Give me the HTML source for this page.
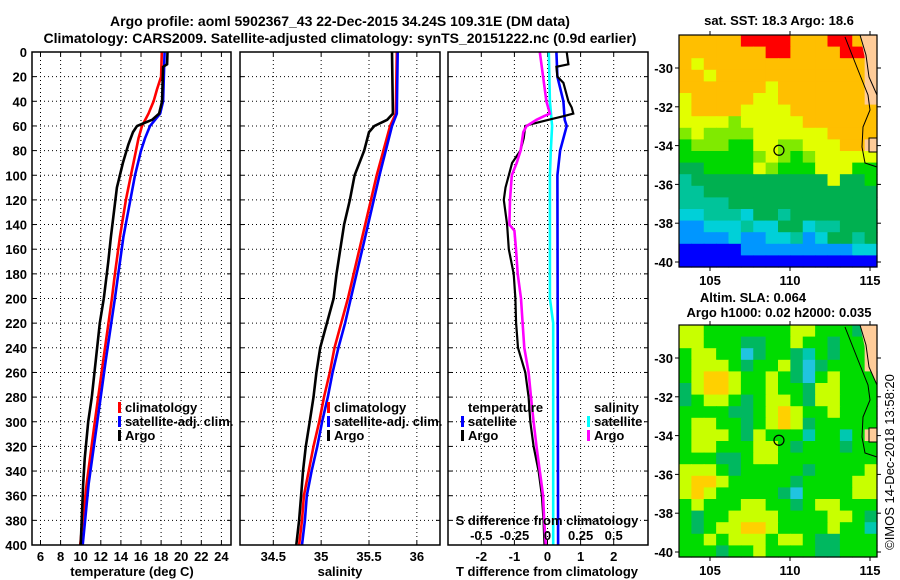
<!DOCTYPE html>
<html><head><meta charset="utf-8"><style>
html,body{margin:0;padding:0;background:#fff;}
svg{display:block;font-family:"Liberation Sans",Arial,sans-serif;font-weight:bold;}
</style></head><body>
<svg id="fig" width="900" height="580" viewBox="0 0 900 580" xmlns="http://www.w3.org/2000/svg">
<rect width="900" height="580" fill="#fff"/>
<text x="340" y="26" font-size="14" text-anchor="middle">Argo profile: aoml 5902367_43 22-Dec-2015 34.24S 109.31E (DM data)</text>
<text x="340" y="43" font-size="14" text-anchor="middle">Climatology: CARS2009. Satellite-adjusted climatology: synTS_20151222.nc (0.9d earlier)</text>
<text x="779" y="25" font-size="13" text-anchor="middle">sat. SST: 18.3 Argo: 18.6</text>
<text x="753" y="302" font-size="13" text-anchor="middle">Altim. SLA: 0.064</text>
<text x="779" y="317" font-size="13" text-anchor="middle">Argo h1000: 0.02 h2000: 0.035</text>
<text transform="translate(894,462) rotate(-90)" font-size="13" font-weight="normal" text-anchor="middle">©IMOS 14-Dec-2018 13:58:20</text>
<g id="g"></g>
</svg>
<script>
// ---- profile data ----
const tDepthArgo=[0,10,12,25,40,50,55,58,60,65,75,90,110,130,150,170,200,220,250,280,300,330,350,380,400];
const tArgo=[18.64,18.6,18.2,18.15,18.1,17.8,17.1,16.2,15.6,15.2,14.75,14.2,13.6,13.3,13.0,12.75,12.3,11.9,11.5,11.1,10.75,10.4,10.25,10.1,10.0];
const tDepthClim=[0,20,30,40,50,60,70,80,100,120,150,180,200,250,300,350,380,400];
const tClim=[18.07,18.0,17.6,17.25,16.75,16.1,15.75,15.5,15.0,14.5,13.9,13.4,13.1,12.25,11.4,10.6,10.2,9.95];
const tDepthSat=[0,40,50,60,70,80,100,150,200,250,300,350,400];
const tSat=[18.35,18.2,17.9,16.9,16.4,16.0,15.4,14.25,13.4,12.5,11.65,10.8,10.2];
const sDepthArgo=[0,50,55,60,65,80,100,120,140,160,180,200,220,240,260,280,300,320,340,360,380,400];
const sArgo=[35.74,35.75,35.69,35.555,35.50,35.45,35.35,35.30,35.24,35.20,35.16,35.13,35.06,34.99,34.95,34.92,34.88,34.84,34.81,34.79,34.77,34.74];
const sDepthClim=[0,50,60,100,150,200,220,240,260,280,300,320,340,360,380,400];
const sClim=[35.79,35.78,35.72,35.58,35.43,35.28,35.21,35.14,35.09,35.03,34.98,34.92,34.87,34.82,34.80,34.77];
const sSat=[35.80,35.79,35.74,35.61,35.46,35.31,35.25,35.18,35.12,35.07,35.01,34.96,34.90,34.85,34.83,34.80];
const dDepthTArgo=[0,10,12,20,25,40,45,50,52,55,58,60,70,80,90,100,110,120,140,160,180,200,220,240,260,280,300,320,340,360,380,400];
const dTArgo=[0.58,0.63,0.27,0.3,0.48,0.63,0.73,0.78,0.5,0.03,-0.42,-0.67,-0.72,-0.82,-1.07,-1.17,-1.27,-1.32,-1.22,-1.17,-1.02,-0.97,-0.95,-0.89,-0.67,-0.57,-0.52,-0.42,-0.27,-0.17,-0.12,-0.09];
const dDepthTSat=[0,20,40,55,60,70,80,100,400];
const dTSat=[0.27,0.3,0.48,0.52,0.58,0.48,0.38,0.3,0.32];
const dDepthSArgo=[0,20,40,50,52,55,60,65,80,90,100,120,140,145,160,180,200,220,240,260,280,300,320,340,360,380,400];
const dSArgo=[-0.058,-0.033,-0.008,0.018,-0.025,-0.083,-0.158,-0.183,-0.203,-0.233,-0.27,-0.283,-0.288,-0.25,-0.238,-0.225,-0.2,-0.188,-0.175,-0.143,-0.125,-0.105,-0.083,-0.058,-0.033,-0.025,-0.013];
const dDepthSSat=[0,40,60,80,100,200,220,400];
const dSSat=[0.01,0.018,0.035,0.025,0.018,0.018,0.043,0.043];
const depthTicks=[0,20,40,60,80,100,120,140,160,180,200,220,240,260,280,300,320,340,360,380,400];
const tTicks=[6,8,10,12,14,16,18,20,22,24];
const sTicks=[34.5,35,35.5,36];
const dTTicks=[-2,-1,0,1,2];
const dSTicks=[-0.5,-0.25,0,0.25,0.5];
const dSTickLabels=["-0.5","-0.25","0","0.25","0.5"];
// ---- map data (grid codes, rows north->south) ----
const sstGrid=[
"OOOOORRRROOORROP","OOOOOOORROOOORRP","OYOOOOOOOOOOOOOP","OOYOOOOOOOOOOOOP","OOOOOOOYOOOOOOOP",
"YOOOOOYYOOOOOOOP","YOOOOYYYYOOOOOOO","YYYYLYYYYYOOOOOO","LYLLLLYYYYYYOOOO","GLLLGGYYLLYYYOOP",
"GGGGGGLYLGLYYYYY","DDGGGGYLGGGYYYGG","TDDDDDDDDDDDYDDG","TTDDDDDDDDDDDDDD","TTTTDDDDDDDDDDDD",
"CCTTTCDDTDDDDDDD","SSCCCTCCDDCTTDDD","SSSSCSSCCTSCDDTD","NNNNNSSSSSSSSSCC","NNNNNNNNNNNNNNNN"];
const slaGrid=[
"YYGGGGGGGYYGGGDP","YYGGGDDGGYGGDGGP","GYYGGCDGGDTGDGGP","GYYYGDGGYDCDGGGP","GYOOYGGYGDCGYGGG",
"DYOOYGGYGGDYYGGG","DGYYGDGYYGDYYGGG","GGGGDDGYOYGGYGGG","GYYGGDGYOYDGGGGG","GYYYGDYGGGTGGTGP",
"GYYGGGYYGDGGGDGG","GGGDDGYYGGGGGGGG","YYYGDGGGGGDGGGGY","YOOYGGGGGDGGGGYY","YOYGGGGGDCGGGGYY",
"GYGGGYYGGDGYYGGG","GDGGYYYYGGGGYYGD","GDGYYOOYGGGGYGGT","GGYGYYYGYYGDDGGG","GGGDGGYGGGGDDGGG"];
const argoLon=109.31, argoLat=-34.24;
const latTicks=[-30,-32,-34,-36,-38,-40];
const lonTicks=[105,110,115];

const NS="http://www.w3.org/2000/svg";
const G=document.getElementById('g');
function mk(tag,at,parent){const e=document.createElementNS(NS,tag);for(const k in at)e.setAttribute(k,at[k]);(parent||G).appendChild(e);return e;}
const Y0=52,Y1=545;
const yD=d=>Y0+d*(Y1-Y0)/400;
const xT=t=>40.5+(t-6)*10.05;
const xS=s=>273.3+(s-34.5)*95.7;
const xDT=t=>547.5+t*33.1;
const xDS=s=>547.5+s*132.4;
const panels=[[32,231],[240,440],[448,648]];

function grid(px,xs,fn,name){
  const [a,b]=px;
  const g=mk('g',{});
  
  
  xs.forEach(v=>{const x=fn(v);mk('line',{x1:x,x2:x,y1:Y0,y2:Y1,stroke:'#000','stroke-width':1,'stroke-dasharray':'1,3'},g);
    mk('line',{x1:x,x2:x,y1:Y1,y2:Y1-4,stroke:'#000'},g);mk('line',{x1:x,x2:x,y1:Y0,y2:Y0+4,stroke:'#000'},g);});
  depthTicks.forEach(d=>{const y=yD(d);mk('line',{x1:a,x2:b,y1:y,y2:y,stroke:'#000','stroke-width':1,'stroke-dasharray':'1,3'},g);
    mk('line',{x1:a,x2:a+4,y1:y,y2:y,stroke:'#000'},g);mk('line',{x1:b,x2:b-4,y1:y,y2:y,stroke:'#000'},g);});
}
grid(panels[0],tTicks,xT,'temperature-grid');
grid(panels[1],sTicks,xS,'salinity-grid');
grid(panels[2],dTTicks,xDT,'difference-grid');

function line(depths,vals,fx,color,name,w){
  const pts=depths.map((d,i)=>fx(vals[i]).toFixed(1)+','+yD(d).toFixed(1)).join(' ');
  const p=mk('polyline',{points:pts,fill:'none',stroke:color,'stroke-width':w||2.6,'stroke-linejoin':'miter'});
  
  
}
line(tDepthClim,tClim,xT,'#f00','temp-climatology-line');
line(tDepthSat,tSat,xT,'#00f','temp-satellite-line');
line(tDepthArgo,tArgo,xT,'#000','temp-argo-line');
line(sDepthClim,sClim,xS,'#f00','sal-climatology-line');
line(sDepthClim,sSat,xS,'#00f','sal-satellite-line');
line(sDepthArgo,sArgo,xS,'#000','sal-argo-line');
line(dDepthTSat,dTSat,xDT,'#00f','tdiff-satellite-line');
line(dDepthSSat,dSSat,xDS,'#0ff','sdiff-satellite-line');
line(dDepthTArgo,dTArgo,xDT,'#000','tdiff-argo-line',2.2);
line(dDepthSArgo,dSArgo,xDS,'#f0f','sdiff-argo-line');

panels.forEach((p,i)=>{const r=mk('rect',{x:p[0],y:Y0,width:p[1]-p[0],height:Y1-Y0,fill:'none',stroke:'#000','stroke-width':1.5});
  
  });

function txt(x,y,s,name,opt){const t=mk('text',Object.assign({x:x,y:y,'font-size':13},opt||{}));t.textContent=s;
  
  return t;}
depthTicks.forEach(d=>txt(27,yD(d)+5,String(d),'depth-tick-label',{'text-anchor':'end'}));
tTicks.forEach(v=>txt(xT(v),561,String(v),'temp-tick-label',{'text-anchor':'middle'}));
sTicks.forEach(v=>txt(xS(v),561,String(v),'sal-tick-label',{'text-anchor':'middle'}));
dTTicks.forEach(v=>txt(xDT(v),561,String(v),'tdiff-tick-label',{'text-anchor':'middle'}));
dSTicks.forEach((v,i)=>txt(xDS(v),540,dSTickLabels[i],'sdiff-tick-label',{'text-anchor':'middle'}));
txt(547,525,'S difference from climatology','sdiff-axis-title',{'text-anchor':'middle'});
txt(132,576,'temperature (deg C)','temp-axis-title',{'text-anchor':'middle'});
txt(340,576,'salinity','sal-axis-title',{'text-anchor':'middle'});
txt(547,576,'T difference from climatology','tdiff-axis-title',{'text-anchor':'middle'});

function leg(x,y,color,label,name){const r=mk('rect',{x:x,y:y-10,width:3,height:11,fill:color});
  
  
  txt(x+7,y,label,name);}
leg(118,412,'#f00','climatology','legend-climatology');
leg(118,426,'#00f','satellite-adj. clim.','legend-satellite-adj');
leg(118,440,'#000','Argo','legend-argo');
leg(327,412,'#f00','climatology','legend2-climatology');
leg(327,426,'#00f','satellite-adj. clim.','legend2-satellite-adj');
leg(327,440,'#000','Argo','legend2-argo');
txt(468,412,'temperature','legend3-temperature-heading');
leg(461,426,'#00f','satellite','legend3-t-satellite');
leg(461,440,'#000','Argo','legend3-t-argo');
txt(594,412,'salinity','legend3-salinity-heading');
leg(587,426,'#0ff','satellite','legend3-s-satellite');
leg(587,440,'#f0f','Argo','legend3-s-argo');

// ---- maps ----
const sstCol={R:'#ff0000',O:'#ffbf00',Y:'#e2ff00',L:'#80ea00',G:'#00d800',D:'#00b050',T:'#00c49a',C:'#00d0d8',S:'#0096ff',N:'#0000ff',P:'#ffcc99'};
const slaCol={G:'#00dc00',Y:'#c8ff00',O:'#ffd000',D:'#00b860',T:'#00c8b0',C:'#20c4e0',P:'#ffcc99'};
function drawMap(x0,y0,gridRows,cols,name){
  const X1=877,W=X1-x0,H=232;
  const lonx=l=>710+(l-105)*16, laty=l=>y0+33+(-30-l)*19.4;
  const g=mk('g',{});
  
  
  const nr=gridRows.length,nc=gridRows[0].length,cw=W/nc,ch=H/nr;
  gridRows.forEach((row,j)=>{for(let i=0;i<nc;i++){
    const c=mk('rect',{x:(x0+i*cw).toFixed(2),y:(y0+j*ch).toFixed(2),width:(cw+0.6).toFixed(2),height:(ch+0.6).toFixed(2),fill:cols[row[i]]},g);
    
    }});
  const dy=y0-35;
  mk('polygon',{points:`860,${35+dy} 877,${35+dy} 877,${95+dy} 869,${77+dy}`,fill:'#ffcc99'},g);
  mk('rect',{x:869,y:138+dy,width:8,height:14,fill:'#ffcc99',stroke:'#000','stroke-width':1},g);
  mk('polyline',{points:`860,${35+dy} 866,${55+dy} 869,${77+dy} 877,${95+dy}`,fill:'none',stroke:'#000','stroke-width':1},g);
  mk('polyline',{points:`845,${37+dy} 858,${70+dy} 868,${95+dy} 870,${110+dy} 863,${127+dy} 862,${147+dy} 865,${163+dy} 877,${167+dy}`,fill:'none',stroke:'#000','stroke-width':1},g);
  const m=mk('circle',{cx:lonx(argoLon),cy:laty(argoLat),r:5,fill:'none',stroke:'#000','stroke-width':1.2},g);
  
  
  mk('rect',{x:x0,y:y0,width:W,height:H,fill:'none',stroke:'#000','stroke-width':1.2},g);
  latTicks.forEach(l=>{const y=laty(l);mk('line',{x1:x0-4,x2:x0,y1:y,y2:y,stroke:'#000'},g);mk('line',{x1:X1,x2:X1+4,y1:y,y2:y,stroke:'#000'},g);
    txt(673,y+5,String(l),'lat-tick-label',{'text-anchor':'end'});});
  lonTicks.forEach(l=>{const x=lonx(l);mk('line',{x1:x,x2:x,y1:y0,y2:y0-4,stroke:'#000'},g);mk('line',{x1:x,x2:x,y1:y0+H,y2:y0+H+4,stroke:'#000'},g);
    txt(x,y0+H+18,String(l),'lon-tick-label',{'text-anchor':'middle'});});
}
drawMap(679,35,sstGrid,sstCol,'sst-map');
drawMap(679,325,slaGrid,slaCol,'sla-map');
</script>
</body></html>
